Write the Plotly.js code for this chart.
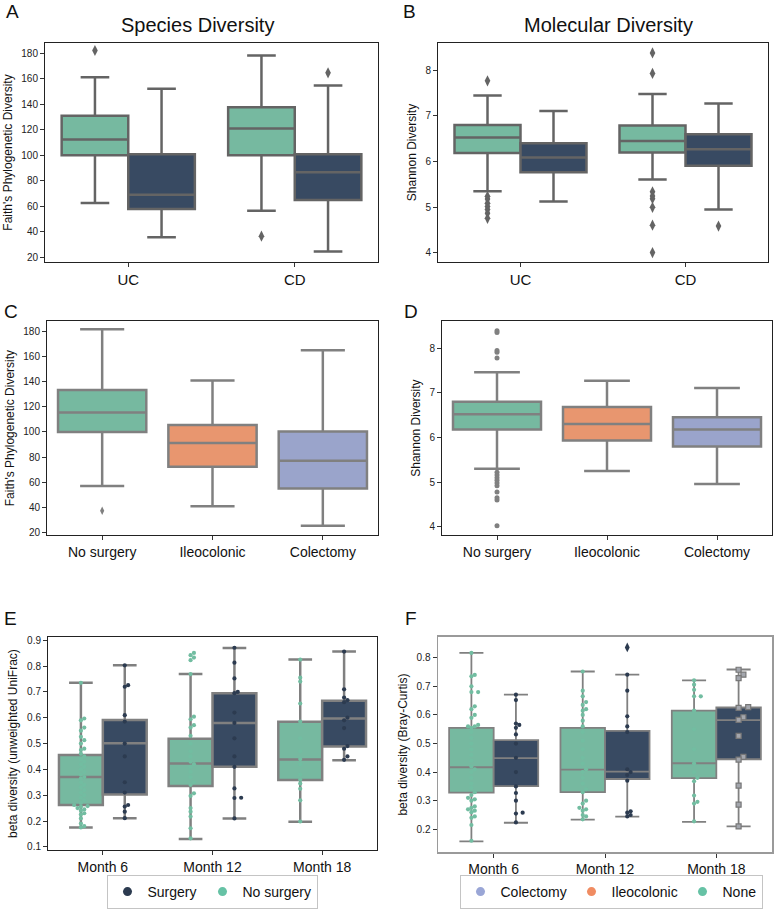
<!DOCTYPE html>
<html>
<head>
<meta charset="utf-8">
<script src="https://cdn.plot.ly/plotly-3.0.1.min.js"></script>
<style>html,body{margin:0;padding:0;background:#fff;}#chart{width:780px;height:909px;}</style>
</head>
<body>
<div id="chart"></div>
<script>
// ---------------- DATA ----------------
// Five-number summaries per box: [lower whisker, Q1, median, Q3, upper whisker]
const groupsAB = ['UC', 'CD'];
const faithNoSurg = [[62.7, 100, 112.3, 131, 161], [56.5, 100, 121, 137.5, 178.2]];
const faithSurg   = [[35.7, 58, 69, 100.8, 152], [24.7, 65, 86.6, 100.8, 154.6]];
const faithNoSurgOut = [[182], [36.6]];
const faithSurgOut   = [[], [164.5]];

const shannonNoSurg = [[5.35, 6.19, 6.53, 6.8, 7.45], [5.61, 6.2, 6.45, 6.79, 7.48]];
const shannonSurg   = [[5.13, 5.77, 6.09, 6.4, 7.11], [4.95, 5.91, 6.27, 6.6, 7.27]];
const shannonNoSurgOut = [[7.77, 5.24, 5.18, 5.09, 5.02, 4.95, 4.87, 4.76], [8.38, 7.93, 5.34, 5.25, 5.19, 5.0, 4.61, 4.01]];
const shannonSurgOut   = [[], [4.59]];

const groupsCD = ['No surgery', 'Ileocolonic', 'Colectomy'];
const faithBySurgery = [[57, 100, 115.5, 133.3, 181.6], [41, 72.3, 91.2, 105.6, 140.8], [25.4, 55, 77.1, 100.3, 165]];
const faithBySurgeryOut = [[37.3], [], []];
const shannonBySurgery = [[5.3, 6.18, 6.52, 6.8, 7.46], [5.25, 5.93, 6.3, 6.68, 7.27], [4.96, 5.8, 6.18, 6.45, 7.11]];
const shannonBySurgeryOut = [[8.39, 8.35, 7.95, 7.91, 7.78, 5.22, 5.16, 5.1, 5.04, 4.98, 4.92, 4.78, 4.65, 4.6, 4.02], [], []];

const months = ['Month 6', 'Month 12', 'Month 18'];
const unifracNoSurg = [[0.175, 0.262, 0.37, 0.456, 0.735], [0.13, 0.336, 0.423, 0.519, 0.769], [0.197, 0.359, 0.438, 0.584, 0.825]];
const unifracSurg   = [[0.211, 0.303, 0.501, 0.591, 0.803], [0.21, 0.41, 0.58, 0.695, 0.87], [0.435, 0.489, 0.597, 0.666, 0.856]];
const unifracNoSurgPts = [
  [0.735, 0.597, 0.59, 0.562, 0.55, 0.526, 0.513, 0.50, 0.48, 0.475, 0.46, 0.45, 0.44, 0.43, 0.42, 0.41, 0.40, 0.39, 0.38, 0.37, 0.365, 0.35, 0.34, 0.33, 0.32, 0.31, 0.30, 0.29, 0.28, 0.27, 0.262, 0.258, 0.255, 0.25, 0.245, 0.24, 0.23, 0.225, 0.21, 0.19, 0.18, 0.175],
  [0.851, 0.842, 0.833, 0.823, 0.769, 0.604, 0.594, 0.571, 0.562, 0.53, 0.50, 0.47, 0.45, 0.43, 0.42, 0.41, 0.39, 0.37, 0.35, 0.34, 0.307, 0.297, 0.25, 0.236, 0.217, 0.172, 0.133],
  [0.825, 0.755, 0.74, 0.655, 0.585, 0.52, 0.47, 0.44, 0.42, 0.38, 0.36, 0.345, 0.325, 0.28, 0.198]
];
const unifracSurgPts = [
  [0.803, 0.726, 0.72, 0.61, 0.585, 0.5, 0.45, 0.35, 0.31, 0.262, 0.256, 0.236, 0.211],
  [0.871, 0.813, 0.752, 0.70, 0.695, 0.62, 0.58, 0.52, 0.45, 0.41, 0.326, 0.29, 0.289, 0.21],
  [0.856, 0.71, 0.678, 0.668, 0.66, 0.60, 0.59, 0.56, 0.49, 0.48, 0.45, 0.437]
];

const brayNoSurg = [[0.158, 0.328, 0.417, 0.555, 0.817], [0.234, 0.330, 0.409, 0.555, 0.752], [0.226, 0.379, 0.431, 0.615, 0.721]];
const braySurg   = [[0.223, 0.351, 0.449, 0.512, 0.671], [0.244, 0.376, 0.402, 0.544, 0.741], [0.21, 0.445, 0.582, 0.626, 0.759]];
const braySurgOut = [[], [0.836], []];
const brayNonePts = [
  [0.817, 0.74, 0.735, 0.70, 0.68, 0.68, 0.63, 0.62, 0.60, 0.59, 0.565, 0.56, 0.56, 0.555, 0.54, 0.52, 0.50, 0.48, 0.46, 0.44, 0.42, 0.41, 0.40, 0.38, 0.36, 0.345, 0.33, 0.32, 0.31, 0.305, 0.30, 0.28, 0.275, 0.27, 0.265, 0.26, 0.245, 0.24, 0.215, 0.16],
  [0.752, 0.685, 0.665, 0.645, 0.635, 0.62, 0.615, 0.60, 0.58, 0.56, 0.54, 0.51, 0.48, 0.45, 0.43, 0.41, 0.40, 0.38, 0.36, 0.34, 0.33, 0.30, 0.29, 0.275, 0.27, 0.265, 0.25, 0.245, 0.235],
  [0.721, 0.706, 0.688, 0.665, 0.665, 0.615, 0.55, 0.48, 0.43, 0.40, 0.38, 0.368, 0.318, 0.296, 0.29, 0.228]
];
const braySurgPts = [
  [0.671, 0.652, 0.57, 0.565, 0.555, 0.532, 0.50, 0.45, 0.40, 0.35, 0.327, 0.30, 0.258, 0.255, 0.224],
  [0.741, 0.685, 0.595, 0.56, 0.54, 0.41, 0.40, 0.39, 0.37, 0.263, 0.258, 0.25, 0.245],
  []
];
const braySurgSquares = [[], [], [0.758, 0.741, 0.729, 0.627, 0.625, 0.592, 0.583, 0.527, 0.453, 0.444, 0.353, 0.286, 0.21]];

const legendE = ['Surgery', 'No surgery'];
const legendF = ['Colectomy', 'Ileocolonic', 'None'];

// ---------------- STYLE ----------------
const FONT = 'Liberation Sans, Arial, Helvetica, sans-serif';
const GREEN = '#76b9a0', NAVY = '#384a62', ORANGE = '#e8966f', PURPLE = '#9aa4cb';
const GREEN_PT = '#72bda1', NAVY_PT = '#2c3b50';
const GREY_AB = '#646464', GREY = '#808080';

const traces = [];

function boxTrace(xa, ya, pos, stats, fill, lc, lw, width, ww) {
  return {
    type: 'box', xaxis: xa, yaxis: ya, x: pos,
    lowerfence: stats.map(s => s[0]), q1: stats.map(s => s[1]), median: stats.map(s => s[2]),
    q3: stats.map(s => s[3]), upperfence: stats.map(s => s[4]),
    fillcolor: fill, line: { color: lc, width: lw }, width: width, whiskerwidth: ww,
    boxpoints: false, showlegend: false, hoverinfo: 'skip'
  };
}
function outTrace(xa, ya, pos, outs, symbol, size, color) {
  const xs = [], ys = [];
  outs.forEach((arr, i) => arr.forEach(v => { xs.push(pos[i]); ys.push(v); }));
  return { type: 'scatter', mode: 'markers', xaxis: xa, yaxis: ya, x: xs, y: ys,
    marker: { symbol: symbol, size: size, color: color }, showlegend: false, hoverinfo: 'skip' };
}
// simple beeswarm layout: returns x positions
function swarm(vals, cx, pxX, pxY, d) {
  const order = vals.map((v, i) => i).sort((a, b) => vals[a] - vals[b]);
  const placed = []; const xs = new Array(vals.length);
  for (const i of order) {
    const y = vals[i] * pxY;
    let off = 0;
    for (let k = 0; k < 40; k++) {
      const cand = k === 0 ? 0 : (k % 2 ? 1 : -1) * Math.ceil(k / 2) * d * 0.8;
      if (placed.every(p => Math.hypot(p[0] - cand, p[1] - y) >= d * 0.85)) { off = cand; break; }
    }
    placed.push([off, y]);
    xs[i] = cx + off / pxX;
  }
  return xs;
}
function ptsTrace(xa, ya, pos, groups, pxX, pxY, d, marker) {
  const xs = [], ys = [];
  groups.forEach((arr, i) => {
    const sx = swarm(arr, pos[i], pxX, pxY, d);
    arr.forEach((v, j) => { xs.push(sx[j]); ys.push(v); });
  });
  return { type: 'scatter', mode: 'markers', xaxis: xa, yaxis: ya, x: xs, y: ys,
    marker: marker, showlegend: false, hoverinfo: 'skip' };
}

const off2L = groupsAB.map((g, i) => i - 0.2), off2R = groupsAB.map((g, i) => i + 0.2);
const off3L = months.map((g, i) => i - 0.2), off3R = months.map((g, i) => i + 0.2);
const pos3 = groupsCD.map((g, i) => i);

// A
traces.push(boxTrace('x', 'y', off2L, faithNoSurg, GREEN, GREY_AB, 2.5, 0.4, 0.43));
traces.push(boxTrace('x', 'y', off2R, faithSurg, NAVY, GREY_AB, 2.5, 0.4, 0.43));
traces.push(outTrace('x', 'y', off2L, faithNoSurgOut, 'diamond-tall', 8, GREY_AB));
traces.push(outTrace('x', 'y', off2R, faithSurgOut, 'diamond-tall', 8, GREY_AB));
// B
traces.push(boxTrace('x2', 'y2', off2L, shannonNoSurg, GREEN, GREY_AB, 2.5, 0.4, 0.43));
traces.push(boxTrace('x2', 'y2', off2R, shannonSurg, NAVY, GREY_AB, 2.5, 0.4, 0.43));
traces.push(outTrace('x2', 'y2', off2L, shannonNoSurgOut, 'diamond-tall', 8, GREY_AB));
traces.push(outTrace('x2', 'y2', off2R, shannonSurgOut, 'diamond-tall', 8, GREY_AB));
// C
traces.push(boxTrace('x3', 'y3', [pos3[0]], [faithBySurgery[0]], GREEN, GREY, 2.5, 0.8, 0.5));
traces.push(boxTrace('x3', 'y3', [pos3[1]], [faithBySurgery[1]], ORANGE, GREY, 2.5, 0.8, 0.5));
traces.push(boxTrace('x3', 'y3', [pos3[2]], [faithBySurgery[2]], PURPLE, GREY, 2.5, 0.8, 0.5));
traces.push(outTrace('x3', 'y3', pos3, faithBySurgeryOut, 'diamond-tall', 6, GREY));
// D
traces.push(boxTrace('x4', 'y4', [pos3[0]], [shannonBySurgery[0]], GREEN, GREY, 2.5, 0.8, 0.52));
traces.push(boxTrace('x4', 'y4', [pos3[1]], [shannonBySurgery[1]], ORANGE, GREY, 2.5, 0.8, 0.52));
traces.push(boxTrace('x4', 'y4', [pos3[2]], [shannonBySurgery[2]], PURPLE, GREY, 2.5, 0.8, 0.52));
traces.push(outTrace('x4', 'y4', pos3, shannonBySurgeryOut, 'circle', 5, GREY));
// E
traces.push(boxTrace('x5', 'y5', off3L, unifracNoSurg, GREEN, GREY, 2.5, 0.4, 0.54));
traces.push(boxTrace('x5', 'y5', off3R, unifracSurg, NAVY, GREY, 2.5, 0.4, 0.54));
traces.push(ptsTrace('x5', 'y5', off3L, unifracNoSurgPts, 109.7, 258.75, 4.2, { size: 4.2, color: GREEN_PT }));
traces.push(ptsTrace('x5', 'y5', off3R, unifracSurgPts, 109.7, 258.75, 4.2, { size: 4.2, color: NAVY_PT }));
// F
traces.push(boxTrace('x6', 'y6', off3L, brayNoSurg, GREEN, GREY, 1.8, 0.4, 0.54));
traces.push(boxTrace('x6', 'y6', off3R, braySurg, NAVY, GREY, 1.8, 0.4, 0.54));
traces.push(outTrace('x6', 'y6', off3R, braySurgOut, 'diamond-tall', 7, NAVY_PT));
traces.push(ptsTrace('x6', 'y6', off3L, brayNonePts, 111.3, 286.2, 4.2, { size: 4.2, color: GREEN_PT }));
traces.push(ptsTrace('x6', 'y6', off3R, braySurgPts, 111.3, 286.2, 4.2, { size: 4.2, color: NAVY_PT }));
traces.push(ptsTrace('x6', 'y6', off3R, braySurgSquares, 111.3, 286.2, 6, { size: 5, symbol: 'square', color: '#a3a6ad', line: { color: '#777777', width: 1.2 } }));

// legend-only entries
const legEColors = [NAVY_PT, '#66c2a5'];
const legEWidth = [50, 0];
legendE.forEach((n, i) => traces.push({ type: 'scatter', mode: 'markers', x: [null], y: [null], xaxis: 'x5', yaxis: 'y5',
  name: n, marker: { size: 9, color: legEColors[i] }, legend: 'legend', legendwidth: legEWidth[i], showlegend: true }));
const legFColors = ['#9aa6d6', '#f08c62', '#66c2a5'];
const legFWidth = [66, 66, 0];
legendF.forEach((n, i) => traces.push({ type: 'scatter', mode: 'markers', x: [null], y: [null], xaxis: 'x6', yaxis: 'y6',
  name: n, marker: { size: 9, color: legFColors[i] }, legend: 'legend2', legendwidth: legFWidth[i], showlegend: true }));

// ---------------- LAYOUT ----------------
const W = 780, H = 909;
const px = (a, b) => [a / W, b / W];
const py = (top, bot) => [1 - bot / H, 1 - top / H];

function xAx(dom, anchor, n, labels, fs, lc, lw) {
  return { domain: dom, anchor: anchor, range: [-0.5, n - 0.5], tickvals: labels.map((l, i) => i), ticktext: labels,
    showline: true, mirror: true, linecolor: lc, linewidth: lw, ticks: 'outside', ticklen: 4, tickcolor: '#333',
    showgrid: false, zeroline: false, tickfont: { family: FONT, size: fs, color: '#111' }, fixedrange: true };
}
function yAx(dom, anchor, range, dtick, tick0, title, lc, lw, fmt) {
  return { domain: dom, anchor: anchor, range: range, dtick: dtick, tick0: tick0, tickformat: fmt || '',
    showline: true, mirror: true, linecolor: lc, linewidth: lw, ticks: 'outside', ticklen: 4, tickcolor: '#333',
    showgrid: false, zeroline: false, tickfont: { family: FONT, size: 10, color: '#222' },
    title: { text: title, font: { family: FONT, size: 12, color: '#111' }, standoff: 6 }, fixedrange: true };
}
function legendBox(cx) {
  return { orientation: 'h', x: cx / W, y: 1 - 895 / H, xanchor: 'center', yanchor: 'middle',
    bordercolor: '#c4c4c4', borderwidth: 1, bgcolor: '#fff', font: { family: FONT, size: 14, color: '#111' },
    itemwidth: 30, tracegroupgap: 0 };
}

const layout = {
  width: W, height: H, autosize: false,
  margin: { l: 0, r: 0, t: 0, b: 0 },
  paper_bgcolor: '#fff', plot_bgcolor: '#fff',
  boxmode: 'overlay', showlegend: true,
  font: { family: FONT, color: '#111' },
  xaxis:  xAx(px(45, 378), 'y', 2, groupsAB, 15, '#222', 1),
  yaxis:  yAx(py(43, 263), 'x', [16.3, 188], 20, 20, "Faith's Phylogenetic Diversity", '#222', 1),
  xaxis2: xAx(px(438, 768), 'y2', 2, groupsAB, 15, '#222', 1),
  yaxis2: yAx(py(43, 263), 'x2', [3.8, 8.6], 1, 4, 'Shannon Diversity', '#222', 1),
  xaxis3: xAx(px(47, 378), 'y3', 3, groupsCD, 14, '#222', 1),
  yaxis3: yAx(py(322, 537), 'x3', [17.9, 188.2], 20, 20, "Faith's Phylogenetic Diversity", '#222', 1),
  xaxis4: xAx(px(442, 772), 'y4', 3, groupsCD, 14, '#222', 1),
  yaxis4: yAx(py(322, 537), 'x4', [3.81, 8.61], 1, 4, 'Shannon Diversity', '#222', 1),
  xaxis5: xAx(px(48, 377), 'y5', 3, months, 14, '#222', 1),
  yaxis5: yAx(py(639, 853), 'x5', [0.087, 0.913], 0.1, 0.1, 'beta diversity (unweighted UniFrac)', '#222', 1, '.1f'),
  xaxis6: xAx(px(438, 772), 'y6', 3, months, 14, '#9a9a9a', 1.5),
  yaxis6: yAx(py(639, 855), 'x6', [0.12, 0.873], 0.1, 0.2, 'beta diversity (Bray-Curtis)', '#9a9a9a', 1.5, '.1f'),
  legend: legendBox(212),
  legend2: legendBox(611),
  annotations: [
    { text: 'A', x: 4 / W, y: 1 - 12 / H, xanchor: 'left', yanchor: 'middle' },
    { text: 'B', x: 401 / W, y: 1 - 12 / H, xanchor: 'left', yanchor: 'middle' },
    { text: 'C', x: 2 / W, y: 1 - 313 / H, xanchor: 'left', yanchor: 'middle' },
    { text: 'D', x: 402 / W, y: 1 - 313 / H, xanchor: 'left', yanchor: 'middle' },
    { text: 'E', x: 2 / W, y: 1 - 621 / H, xanchor: 'left', yanchor: 'middle' },
    { text: 'F', x: 403 / W, y: 1 - 621 / H, xanchor: 'left', yanchor: 'middle' },
  ].map(a => Object.assign(a, { xref: 'paper', yref: 'paper', showarrow: false, font: { family: FONT, size: 19, color: '#111' } }))
   .concat([
    { text: 'Species Diversity', x: 197 / W, y: 1 - 25 / H },
    { text: 'Molecular Diversity', x: 608 / W, y: 1 - 25 / H },
  ].map(a => Object.assign(a, { xref: 'paper', yref: 'paper', xanchor: 'center', yanchor: 'middle', showarrow: false, font: { family: FONT, size: 20, color: '#111' } })))
};

Plotly.newPlot('chart', traces, layout, { displayModeBar: false, staticPlot: true });
</script>
</body>
</html>
